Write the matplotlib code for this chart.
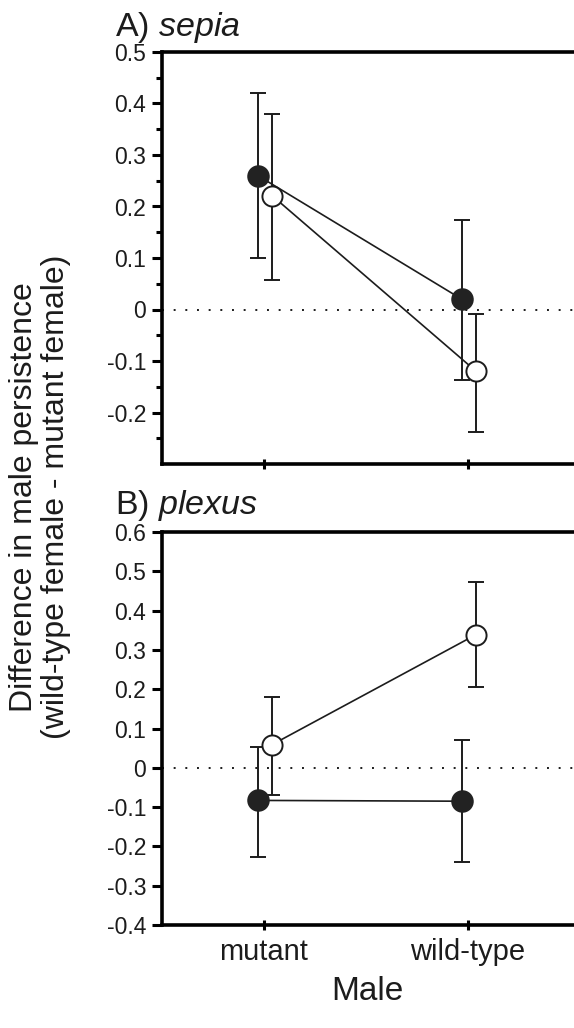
import numpy as np
import matplotlib
matplotlib.use("Agg")
import matplotlib.pyplot as plt
from matplotlib.ticker import FixedLocator, FuncFormatter

plt.rcParams['font.family'] = ['Liberation Sans', 'DejaVu Sans']
plt.rcParams['mathtext.fontset'] = 'custom'
plt.rcParams['mathtext.rm'] = 'Liberation Sans'
plt.rcParams['mathtext.it'] = 'Liberation Sans:italic'
plt.rcParams['axes.unicode_minus'] = False

males = ['mutant', 'wild-type']

# A) sepia  -- mean, upper and lower CI limits
sepia_filled = [0.26, 0.02]
sepia_filled_hi = [0.42, 0.173]
sepia_filled_lo = [0.10, -0.136]
sepia_open = [0.221, -0.12]
sepia_open_hi = [0.379, -0.008]
sepia_open_lo = [0.057, -0.237]

# B) plexus
plexus_filled = [-0.083, -0.085]
plexus_filled_hi = [0.053, 0.07]
plexus_filled_lo = [-0.226, -0.24]
plexus_open = [0.059, 0.339]
plexus_open_hi = [0.18, 0.473]
plexus_open_lo = [-0.069, 0.205]

ink = '#1c1c1c'
W, H = 574, 1028
fig = plt.figure(figsize=(W / 100, H / 100), dpi=100)

left = 162 / W
width = 1 - left
axA = fig.add_axes([left, 1 - 464 / H, width, (464 - 52) / H])
axB = fig.add_axes([left, 1 - 925 / H, width, (925 - 532) / H])

x = np.arange(1, len(males) + 1)
off_f, off_o = -0.03, 0.04


def draw_pair(ax, m, hi, lo, filled):
    m, hi, lo = np.array(m), np.array(hi), np.array(lo)
    xx = x + (off_f if filled else off_o)
    ax.errorbar(xx, m, yerr=[m - lo, hi - m], fmt='none', ecolor=ink,
                elinewidth=1.4, capsize=5.5, capthick=1.4, zorder=2)
    ax.plot(xx, m, '-', color=ink, lw=1.2, zorder=3)
    if filled:
        ax.plot(xx, m, 'o', ms=15, mfc='#222222', mec='#222222', mew=1.2, zorder=4)
    else:
        ax.plot(xx, m, 'o', ms=14.5, mfc='white', mec=ink, mew=1.4, zorder=5)


def fmt(v, pos):
    return '0' if abs(v) < 1e-9 else '%.1f' % v


def style(ax, ymin, ymax, majors, minors):
    ax.set_xlim(0.5, 2.52)
    ax.set_ylim(ymin, ymax)
    ax.axhline(0, color=ink, lw=1.4, ls=(0, (1, 5)), zorder=1)
    for s in ['top', 'left', 'bottom']:
        ax.spines[s].set_linewidth(2.6)
        ax.spines[s].set_color('black')
    ax.spines['right'].set_visible(False)
    ax.yaxis.set_major_locator(FixedLocator(majors))
    ax.yaxis.set_major_formatter(FuncFormatter(fmt))
    if minors is not None:
        ax.yaxis.set_minor_locator(FixedLocator(minors))
    ax.tick_params(axis='y', which='major', length=7.5, width=2.2, pad=4,
                   labelsize=16.5, labelcolor=ink, direction='out')
    ax.tick_params(axis='y', which='minor', length=4, width=2.2, direction='out')
    ax.set_xticks(x)
    ax.tick_params(axis='x', which='major', length=7, width=2.2, direction='inout',
                   labelsize=21, labelcolor=ink, pad=6)


draw_pair(axA, sepia_filled, sepia_filled_hi, sepia_filled_lo, True)
draw_pair(axA, sepia_open, sepia_open_hi, sepia_open_lo, False)
style(axA, -0.3, 0.5, np.round(np.arange(-0.2, 0.51, 0.1), 2),
      np.round(np.arange(-0.25, 0.5, 0.1), 2))
axA.set_xticklabels([])

draw_pair(axB, plexus_filled, plexus_filled_hi, plexus_filled_lo, True)
draw_pair(axB, plexus_open, plexus_open_hi, plexus_open_lo, False)
style(axB, -0.4, 0.6, np.round(np.arange(-0.4, 0.61, 0.1), 2), None)
axB.set_xticklabels(males)
axB.set_xlabel('Male', fontsize=24, color=ink)
axB.xaxis.set_label_coords((367 / W - left) / width, -0.13)

fig.text(115 / W, 1 - 36 / H, r'A) $\mathit{sepia}$', fontsize=24.5, color=ink,
         ha='left', va='baseline')
fig.text(115 / W, 1 - 514 / H, r'B) $\mathit{plexus}$', fontsize=24.5, color=ink,
         ha='left', va='baseline')

fig.text(40 / W, 1 - 497 / H,
         'Difference in male persistence\n(wild-type female - mutant female)',
         rotation=90, fontsize=23, color=ink, ha='center', va='center',
         multialignment='center', linespacing=1.05)

fig.savefig('out.png', dpi=100)
